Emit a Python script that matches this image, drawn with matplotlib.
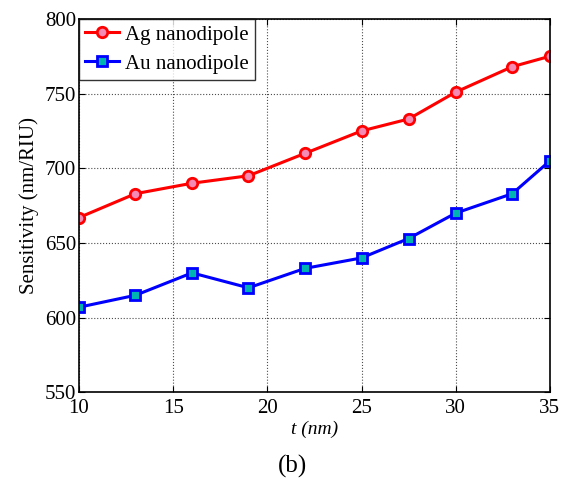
import numpy as np
import matplotlib
matplotlib.use("Agg")
import matplotlib.pyplot as plt

# Values
t_nm = [10, 13, 16, 19, 22, 25, 27.5, 30, 33, 35]
ag_sens = [667, 683, 690, 695, 710, 725, 733, 751, 768, 775]
au_sens = [607, 615, 630, 620, 633, 640, 653, 670, 683, 705]

x_ticks = [10, 15, 20, 25, 30, 35]
y_ticks = [550, 600, 650, 700, 750, 800]

plt.rcParams["font.family"] = ["Liberation Serif", "DejaVu Serif"]

fig = plt.figure(figsize=(5.72, 4.83), dpi=100)
ax = fig.add_axes([0.138, 0.1876, 0.8234, 0.7733])

ax.plot(t_nm, ag_sens, "-o", color="red", lw=2.2,
        markersize=7.5, markeredgewidth=2.0, markerfacecolor="#f58ab5",
        markeredgecolor="red", label="Ag nanodipole")
ax.plot(t_nm, au_sens, "-s", color="blue", lw=2.2,
        markersize=7, markeredgewidth=2.0, markerfacecolor="#00b3b3",
        markeredgecolor="blue", label="Au nanodipole")

ax.set_xlim(10, 35)
ax.set_ylim(550, 800)
ax.set_xticks(x_ticks)
ax.set_yticks(y_ticks)
ax.grid(True, linestyle=":", color="0.3", linewidth=0.8)
ax.tick_params(direction="in", length=4, width=0.8, top=True, right=True,
               labelsize=15, pad=2)
ax.tick_params(axis="x", pad=5)
for s in ax.spines.values():
    s.set_linewidth(1.2)

ax.set_xlabel("t (nm)", fontsize=14, style="italic", labelpad=2)
ax.set_ylabel("Sensitivity (nm/RIU)", fontsize=15, labelpad=4)

leg = ax.legend(loc="upper left", fontsize=15, frameon=True, fancybox=False,
                borderaxespad=0, handlelength=1.6, handletextpad=0.3,
                borderpad=0.3, labelspacing=0.45, edgecolor="black")
leg.get_frame().set_linewidth(1.0)

fig.text(0.512, 0.035, "(b)", ha="center", va="center", fontsize=18)

fig.savefig("out.png", dpi=100)
